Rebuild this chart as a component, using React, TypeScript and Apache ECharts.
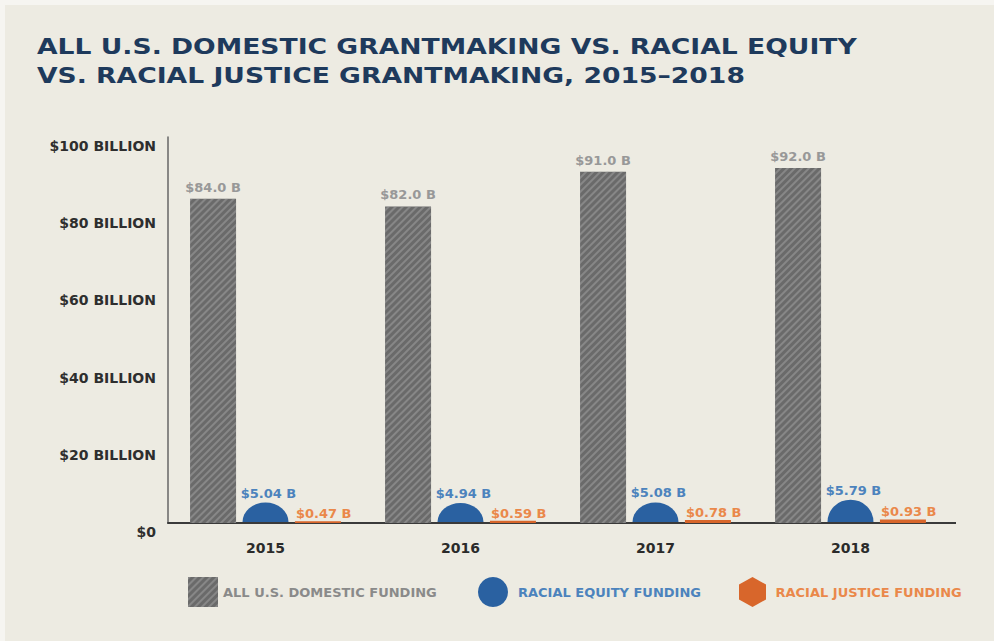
import React, { useEffect, useRef } from "react";
import * as echarts from "echarts";

const years = ["2015", "2016", "2017", "2018"];
const domesticFunding = [84.0, 82.0, 91.0, 92.0];
const equityFunding = [5.04, 4.94, 5.08, 5.79];
const justiceFunding = [0.47, 0.59, 0.78, 0.93];
const yTickValues = [0, 20, 40, 60, 80, 100];

const titleLines = [
  "ALL U.S. DOMESTIC GRANTMAKING VS. RACIAL EQUITY",
  "VS. RACIAL JUSTICE GRANTMAKING, 2015\u20132018",
];
const seriesNames = [
  "ALL U.S. DOMESTIC FUNDING",
  "RACIAL EQUITY FUNDING",
  "RACIAL JUSTICE FUNDING",
];

const FONT = '"DejaVu Sans", "Open Sans", sans-serif';
const GRAY = "#6a6a6a";
const BLUE = "#2a61a1";
const ORANGE = "#d8662b";
const GRAY_TXT = "#989898";
const BLUE_TXT = "#4c83bd";
const ORANGE_TXT = "#ea884a";

export default function App() {
  const ref = useRef<HTMLDivElement>(null);

  useEffect(() => {
    if (!ref.current) return;
    const chart = echarts.init(ref.current, undefined, { renderer: "svg" });

    const hexPath =
      "path://M15 0 L28.5 7.5 L28.5 22.5 L15 30 L1.5 22.5 L1.5 7.5 Z";

    const legendBase = {
      orient: "horizontal",
      top: 572,
      itemWidth: 30,
      itemHeight: 30,
      selectedMode: false,
    };

    const option: any = {
      animation: false,
      backgroundColor: "#edebe2",
      grid: { left: 168, right: 46, top: 137, bottom: 118, containLabel: false },
      xAxis: {
        type: "category",
        data: years,
        axisTick: { show: false },
        axisLine: { show: true, lineStyle: { color: "#3a3a3a", width: 2 } },
        axisLabel: {
          margin: 18,
          color: "#2b2b2b",
          fontFamily: FONT,
          fontWeight: "bold",
          fontSize: 14,
        },
      },
      yAxis: {
        type: "value",
        min: 0,
        max: 100,
        interval: 20,
        splitLine: { show: false },
        axisTick: { show: false },
        axisLine: { show: true, lineStyle: { color: "#666666", width: 1.5 } },
        axisLabel: {
          margin: 12,
          color: "#2e2e2e",
          fontFamily: FONT,
          fontWeight: "bold",
          fontSize: 14,
          verticalAlign: "top",
          lineHeight: 18,
          formatter: (v: number) =>
            yTickValues.includes(v) ? (v === 0 ? "$0" : `$${v} BILLION`) : "",
        },
      },
      legend: [
        {
          ...legendBase,
          left: 183,
          data: [{ name: seriesNames[0], icon: "rect" }],
          textStyle: { color: "#8a8a8a", fontFamily: FONT, fontWeight: "bold", fontSize: 13 },
        },
        {
          ...legendBase,
          left: 473,
          data: [{ name: seriesNames[1], icon: "circle" }],
          textStyle: {
            color: BLUE_TXT,
            fontFamily: FONT,
            fontWeight: "bold",
            fontSize: 13,
            padding: [0, 0, 0, 5],
          },
        },
        {
          ...legendBase,
          left: 734,
          data: [{ name: seriesNames[2], icon: hexPath }],
          textStyle: {
            color: ORANGE_TXT,
            fontFamily: FONT,
            fontWeight: "bold",
            fontSize: 13,
            padding: [0, 0, 0, 3],
          },
        },
      ],
      graphic: [
        { type: "rect", shape: { x: 0, y: 0, width: 994, height: 5 }, style: { fill: "#f6f5f1" } },
        { type: "rect", shape: { x: 0, y: 0, width: 5, height: 641 }, style: { fill: "#f6f5f1" } },
        {
          type: "text",
          x: 37,
          y: 32,
          scaleX: 1.21,
          style: {
            text: titleLines.join("\n"),
            font: `900 22px ${FONT}`,
            fill: "#1e3a5c",
            lineHeight: 29,
            verticalAlign: "top",
          },
        },
        {
          type: "line",
          shape: { x1: 947, y1: 523, x2: 956, y2: 523 },
          style: { stroke: "#3a3a3a", lineWidth: 2 },
        },
      ],
      series: [
        {
          name: seriesNames[0],
          type: "bar",
          data: domesticFunding,
          barWidth: 46,
          barGap: "128%",
          itemStyle: {
            color: GRAY,
            decal: {
              symbol: "rect",
              symbolSize: 1,
              color: "rgba(170,170,170,0.45)",
              dashArrayX: [1, 0],
              dashArrayY: [1.5, 2.5],
              rotation: -Math.PI / 4,
            },
          },
          label: {
            show: true,
            position: "top",
            distance: 5,
            color: GRAY_TXT,
            fontFamily: FONT,
            fontWeight: "bold",
            fontSize: 13,
            formatter: (p: any) => `$${Number(p.value).toFixed(1)} B`,
          },
        },
        {
          name: seriesNames[1],
          type: "custom",
          data: equityFunding.map((v, i) => [i, v]),
          encode: { x: 0, y: 1 },
          itemStyle: { color: BLUE },
          z: 3,
          renderItem: (params: any, api: any) => {
            const xi = api.value(0);
            const v = api.value(1);
            const base = api.coord([xi, 0]);
            const top = api.coord([xi, v]);
            const rx = 23;
            const ry = Math.max(base[1] - top[1], 1);
            const cx = base[0];
            const by = base[1] - 1;
            return {
              type: "group",
              children: [
                {
                  type: "path",
                  shape: {
                    pathData: `M${cx - rx} ${by} A${rx} ${ry} 0 0 1 ${cx + rx} ${by} Z`,
                  },
                  style: { fill: BLUE },
                },
                {
                  type: "text",
                  x: cx + 3,
                  y: by - ry - 3,
                  style: {
                    text: `$${Number(v).toFixed(2)} B`,
                    fill: BLUE_TXT,
                    font: `bold 13px ${FONT}`,
                    align: "center",
                    verticalAlign: "bottom",
                  },
                },
              ],
            };
          },
        },
        {
          name: seriesNames[2],
          type: "bar",
          data: justiceFunding,
          barWidth: 46,
          barGap: "128%",
          itemStyle: { color: ORANGE },
          label: {
            show: true,
            position: [1, -1],
            align: "left",
            verticalAlign: "bottom",
            color: ORANGE_TXT,
            fontFamily: FONT,
            fontWeight: "bold",
            fontSize: 13,
            formatter: (p: any) => `$${Number(p.value).toFixed(2)} B`,
          },
        },
      ],
    };

    chart.setOption(option);
    return () => chart.dispose();
  }, []);

  return (
    <div
      ref={ref}
      style={{ position: "fixed", left: 0, top: 0, width: 994, height: 641 }}
    />
  );
}
